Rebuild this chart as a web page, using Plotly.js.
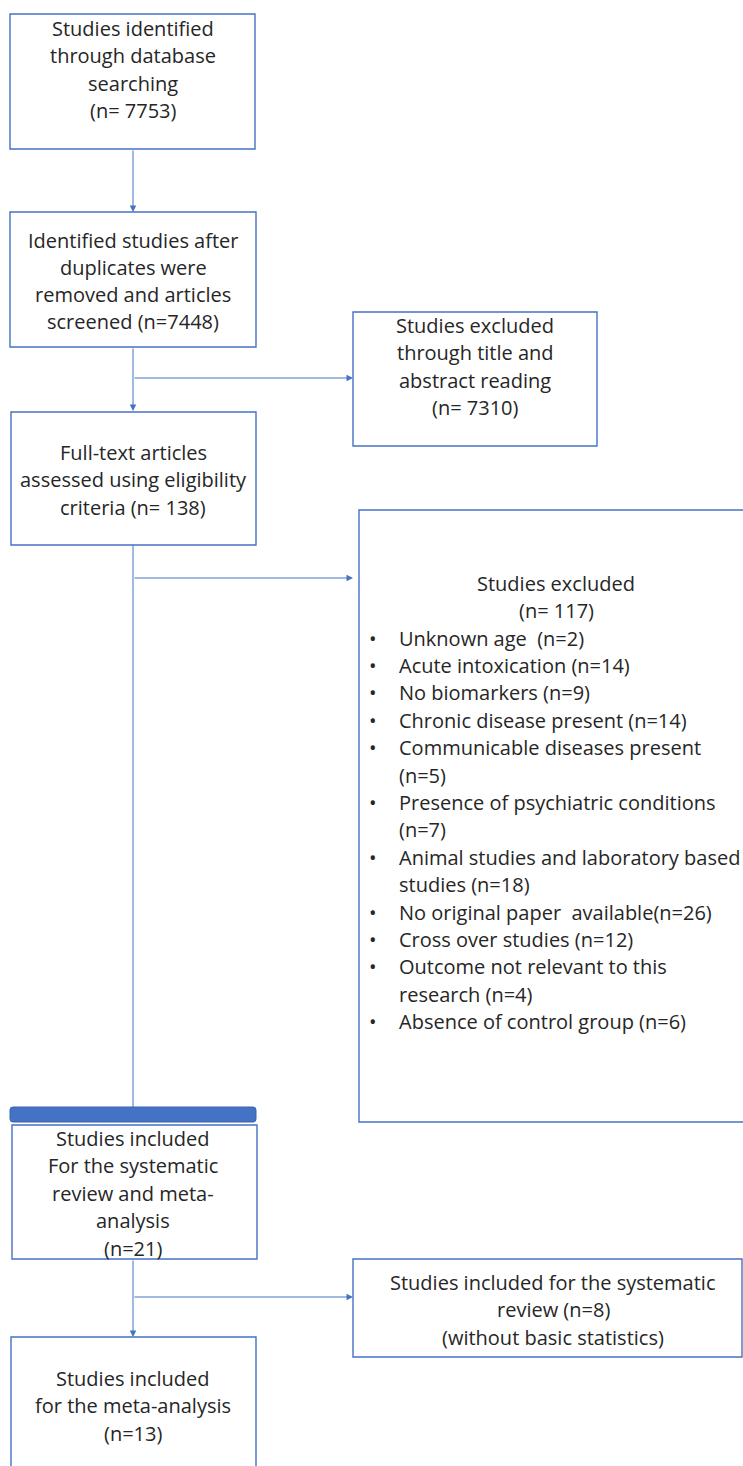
<!DOCTYPE html>
<html>
<head>
<meta charset="utf-8">
<script src="https://cdn.plot.ly/plotly-3.0.1.min.js"></script>
<style>html,body{margin:0;padding:0;background:#fff;}#chart{width:743px;height:1466px;}</style>
</head>
<body>
<div id="chart"></div>
<script>
// ---- data ----
const stageLabels = [
  "Studies identified|through database|searching|(n= ",
  "Identified studies after|duplicates were|removed and articles|screened (n=",
  "Full-text articles|assessed using eligibility|criteria (n= ",
  "Studies included|For the systematic|review and meta-|analysis|(n=",
  "Studies included|for the meta-analysis|(n="
];
const stageCounts = [7753, 7448, 138, 21, 13];

const excludedLabels = [
  "Studies excluded|through title and|abstract reading|(n= ",
  "Studies excluded|(n= ",
  "Studies included for the systematic|review (n=8)|(without basic statistics"
];
const excludedCounts = [7310, 117, null];

const reasonLabels = [
  "Unknown age  (n=",
  "Acute intoxication (n=",
  "No biomarkers (n=",
  "Chronic disease present (n=",
  "Communicable diseases present|(n=",
  "Presence of psychiatric conditions|(n=",
  "Animal studies and laboratory based|studies (n=",
  "No original paper  available(n=",
  "Cross over studies (n=",
  "Outcome not relevant to this|research (n=",
  "Absence of control group (n="
];
const reasonCounts = [2, 14, 9, 14, 5, 7, 18, 26, 12, 4, 6];

// ---- layout helpers ----
const BLUE = '#4472C4';
const TXT = '#262626';
const FONT = {family: '"Open Sans", Lato, sans-serif', size: 20, color: TXT};

const shapes = [];
const annotations = [];

function box(x0, y0, x1, y1) {
  shapes.push({type: 'rect', xref: 'x', yref: 'y', x0: x0, y0: y0, x1: x1, y1: y1,
    line: {color: BLUE, width: 1.4}, fillcolor: 'rgba(0,0,0,0)'});
}
function line(x0, y0, x1, y1) {
  shapes.push({type: 'line', xref: 'x', yref: 'y', x0: x0, y0: y0, x1: x1, y1: y1,
    line: {color: BLUE, width: 1}});
}
function arrow(x0, y0, x1, y1) {
  annotations.push({x: x1, y: y1, ax: x0, ay: y0, xref: 'x', yref: 'y', axref: 'x', ayref: 'y',
    text: '', showarrow: true, arrowhead: 2, arrowsize: 1.3, arrowwidth: 1, arrowcolor: BLUE, standoff: 0});
}
function textLines(str, cx, yStart, step, anchor) {
  str.split('|').forEach(function (t, i) {
    annotations.push({x: cx, y: yStart + i * step, xref: 'x', yref: 'y', text: t,
      showarrow: false, xanchor: anchor || 'center', yanchor: 'middle', font: FONT});
  });
}
function withCount(label, count) {
  return count === null ? label + ')' : label + count + ')';
}

// boxes
box(10, 14, 255, 149);
box(10, 212, 256, 347);
box(11, 412, 256, 545);
box(12, 1125, 257, 1259);
box(11, 1337, 256, 1480);
box(353, 312, 597, 446);
box(359, 510, 770, 1122);
box(353, 1259, 742, 1357);

// blue bar
shapes.push({type: 'path', xref: 'x', yref: 'y',
  path: 'M 13 1107 L 253 1107 Q 256 1107 256 1110 L 256 1119 Q 256 1122 253 1122 L 13 1122 Q 10 1122 10 1119 L 10 1110 Q 10 1107 13 1107 Z',
  fillcolor: BLUE, line: {color: '#3a64b0', width: 1}});

// connectors
arrow(133, 149, 133, 212);
arrow(133, 347, 133, 411);
arrow(133, 378, 353, 378);
line(133, 545, 133, 1107);
arrow(133, 578, 353, 578);
arrow(133, 1259, 133, 1337);
arrow(133, 1297, 353, 1297);

// stage text
textLines(withCount(stageLabels[0], stageCounts[0]), 133, 28, 27.5);
textLines(withCount(stageLabels[1], stageCounts[1]), 133, 240, 27.3);
textLines(withCount(stageLabels[2], stageCounts[2]), 133, 452, 27.5);
textLines(withCount(stageLabels[3], stageCounts[3]), 133, 1138, 27.5);
textLines(withCount(stageLabels[4], stageCounts[4]), 133, 1378, 27.5);

// exclusion text
textLines(withCount(excludedLabels[0], excludedCounts[0]), 475, 325, 27.5);
textLines(withCount(excludedLabels[1], excludedCounts[1]), 556, 583, 27.6);
textLines(withCount(excludedLabels[2], excludedCounts[2]), 553, 1282, 27.5);

// bullet list
let row = 0;
const listTop = 638, listStep = 27.4;
reasonLabels.forEach(function (lab, k) {
  const lines = withCount(lab, reasonCounts[k]).split('|');
  annotations.push({x: 373, y: listTop + row * listStep, xref: 'x', yref: 'y', text: '•',
    showarrow: false, xanchor: 'center', yanchor: 'middle', font: {family: FONT.family, size: 20, color: TXT}});
  lines.forEach(function (t) {
    annotations.push({x: 397, y: listTop + row * listStep, xref: 'x', yref: 'y', text: t,
      showarrow: false, xanchor: 'left', yanchor: 'middle', font: FONT});
    row++;
  });
});

const layout = {
  width: 743, height: 1466,
  margin: {l: 0, r: 0, t: 0, b: 0, pad: 0},
  paper_bgcolor: '#ffffff', plot_bgcolor: '#ffffff',
  showlegend: false,
  xaxis: {range: [0, 743], visible: false, fixedrange: true},
  yaxis: {range: [1466, 0], visible: false, fixedrange: true},
  shapes: shapes,
  annotations: annotations
};

Plotly.newPlot('chart', [], layout, {staticPlot: true, displayModeBar: false});
</script>
</body>
</html>
